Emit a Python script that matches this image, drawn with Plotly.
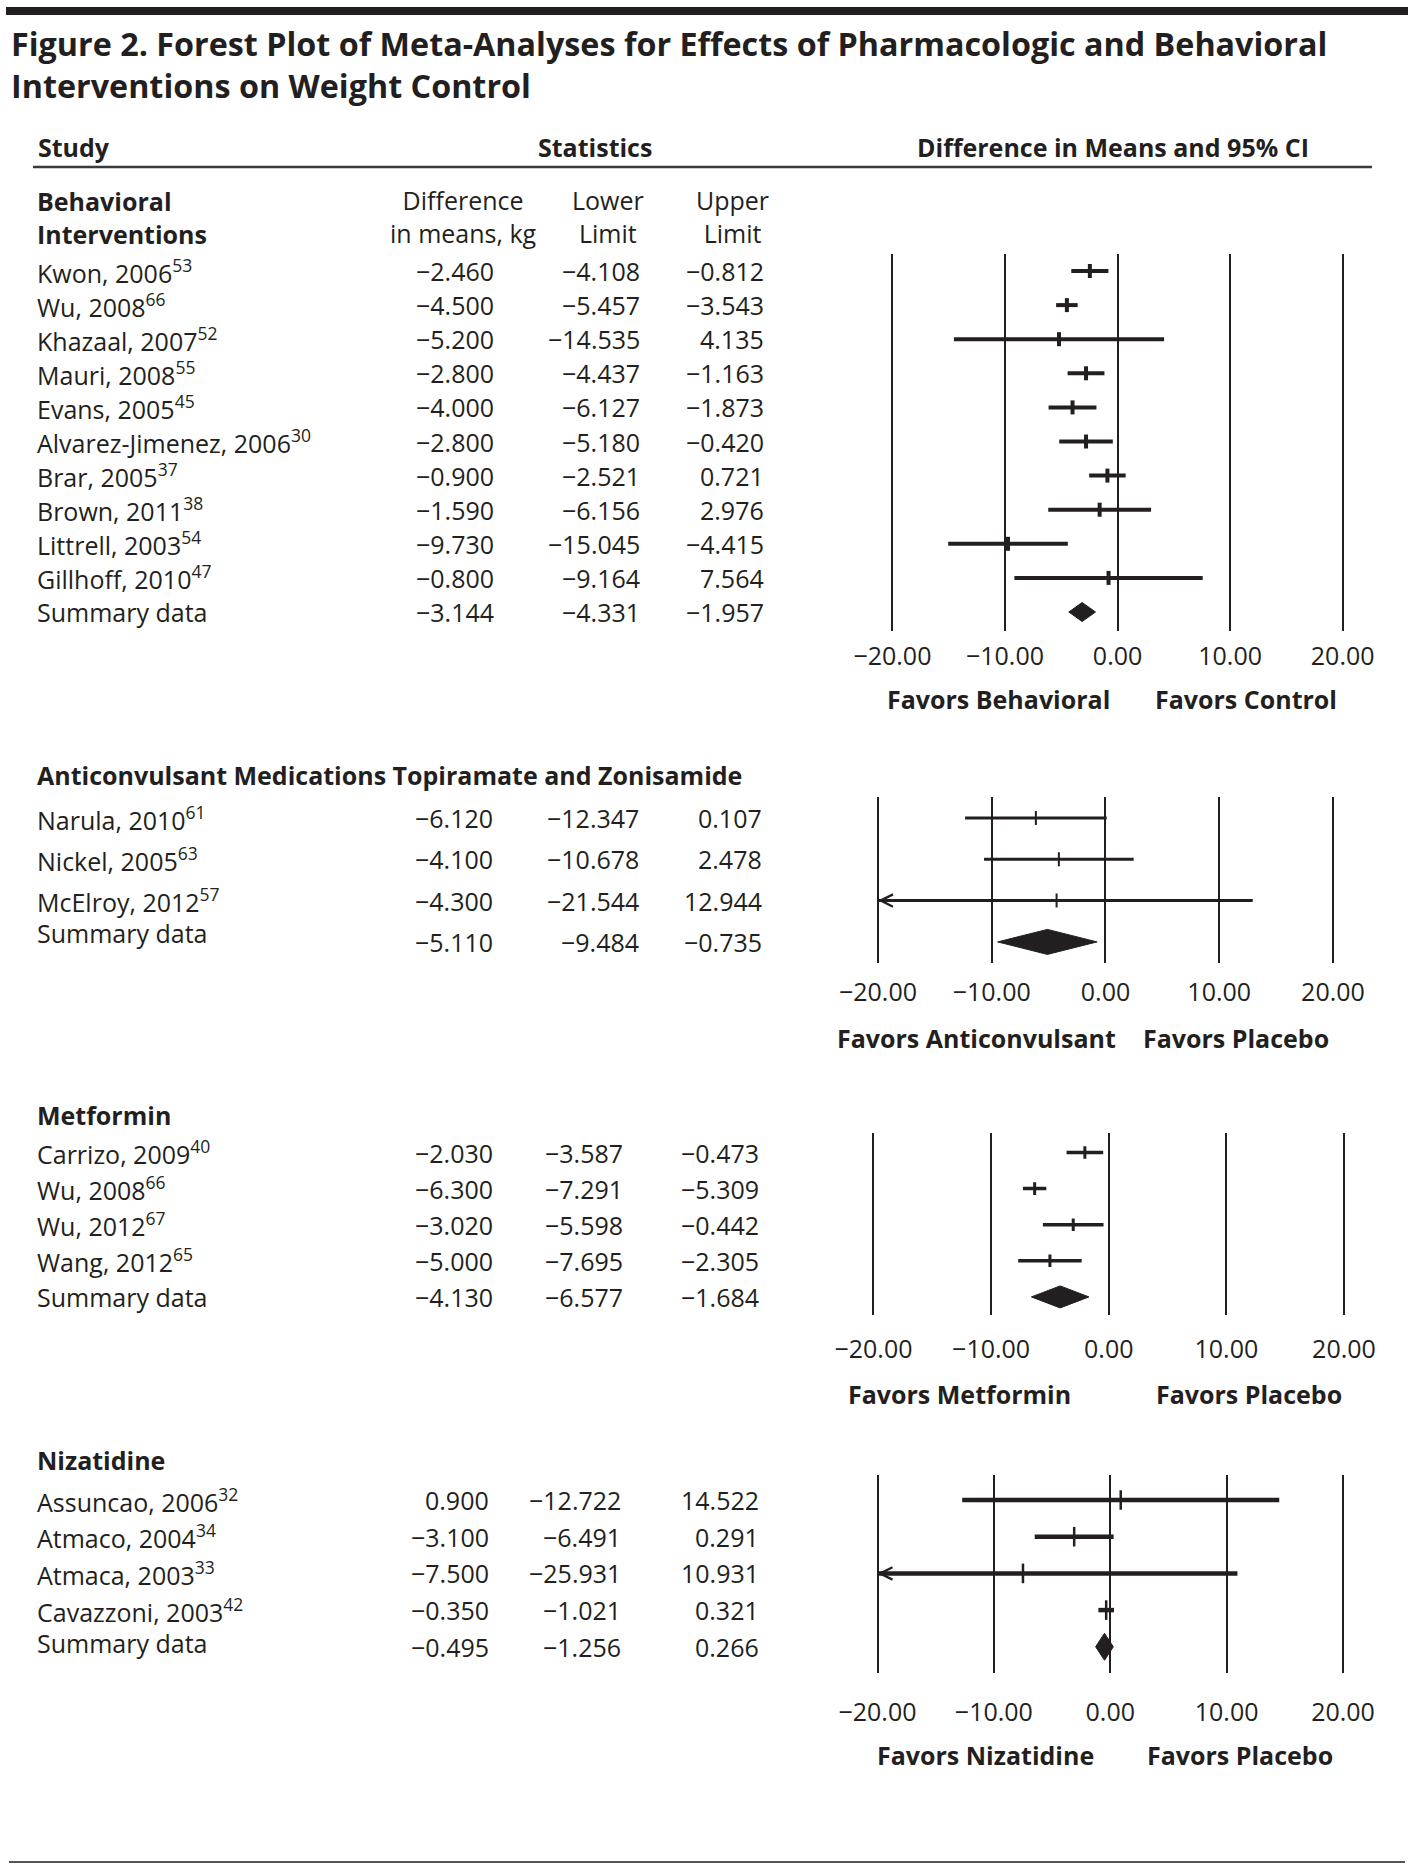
import plotly.graph_objects as go

# ---------------- data ----------------
tick_vals = [-20, -10, 0, 10, 20]

beh_study = ["Kwon, 2006", "Wu, 2008", "Khazaal, 2007", "Mauri, 2008", "Evans, 2005",
             "Alvarez-Jimenez, 2006", "Brar, 2005", "Brown, 2011", "Littrell, 2003", "Gillhoff, 2010"]
beh_ref = ["53", "66", "52", "55", "45", "30", "37", "38", "54", "47"]
beh_diff = [-2.460, -4.500, -5.200, -2.800, -4.000, -2.800, -0.900, -1.590, -9.730, -0.800]
beh_lower = [-4.108, -5.457, -14.535, -4.437, -6.127, -5.180, -2.521, -6.156, -15.045, -9.164]
beh_upper = [-0.812, -3.543, 4.135, -1.163, -1.873, -0.420, 0.721, 2.976, -4.415, 7.564]
beh_summary = [-3.144, -4.331, -1.957]

anti_study = ["Narula, 2010", "Nickel, 2005", "McElroy, 2012"]
anti_ref = ["61", "63", "57"]
anti_diff = [-6.120, -4.100, -4.300]
anti_lower = [-12.347, -10.678, -21.544]
anti_upper = [0.107, 2.478, 12.944]
anti_summary = [-5.110, -9.484, -0.735]

met_study = ["Carrizo, 2009", "Wu, 2008", "Wu, 2012", "Wang, 2012"]
met_ref = ["40", "66", "67", "65"]
met_diff = [-2.030, -6.300, -3.020, -5.000]
met_lower = [-3.587, -7.291, -5.598, -7.695]
met_upper = [-0.473, -5.309, -0.442, -2.305]
met_summary = [-4.130, -6.577, -1.684]

niz_study = ["Assuncao, 2006", "Atmaco, 2004", "Atmaca, 2003", "Cavazzoni, 2003"]
niz_ref = ["32", "34", "33", "42"]
niz_diff = [0.900, -3.100, -7.500, -0.350]
niz_lower = [-12.722, -6.491, -25.931, -1.021]
niz_upper = [14.522, 0.291, 10.931, 0.321]
niz_summary = [-0.495, -1.256, 0.266]

# ---------------- style ----------------
W, H = 1414, 1873
INK = "#231f20"
FONT = "Open Sans"
FS = 25


def xp(px):
    return px / W


def yp(py):
    return 1 - py / H


def fmt(v):
    return f"{v:.3f}".replace("-", "\u2212")


def tfmt(v):
    return f"{v:.2f}".replace("-", "\u2212")


panels = [
    dict(section=None, study=beh_study, ref=beh_ref, diff=beh_diff, lower=beh_lower, upper=beh_upper,
         summary=beh_summary, favors=("Favors Behavioral", "Favors Control"),
         xm=892.4, xpp=1342.7, top=254, bottom=631, row0=271, step=34.1,
         cols=(496, 642, 766), ci_w=4, tick_size=10, tick_w=4, dia_h=9.5,
         tick_y=654, favors_y=699, favors_x=(885, 1153), sum_shift=0),
    dict(section=("Anticonvulsant Medications Topiramate and Zonisamide", 775),
         study=anti_study, ref=anti_ref, diff=anti_diff, lower=anti_lower, upper=anti_upper,
         summary=anti_summary, favors=("Favors Anticonvulsant", "Favors Placebo"),
         xm=878, xpp=1333, top=797, bottom=963, row0=818, step=41.3,
         cols=(495, 641, 764), ci_w=3, tick_size=10, tick_w=2, dia_h=12.5,
         tick_y=990, favors_y=1038, favors_x=(835, 1141), sum_shift=9),
    dict(section=("Metformin", 1115),
         study=met_study, ref=met_ref, diff=met_diff, lower=met_lower, upper=met_upper,
         summary=met_summary, favors=("Favors Metformin", "Favors Placebo"),
         xm=873.5, xpp=1344, top=1133, bottom=1315, row0=1152.5, step=36.1,
         cols=(495, 625, 761), ci_w=3.5, tick_size=9, tick_w=3, dia_h=11,
         tick_y=1347, favors_y=1394, favors_x=(846, 1154), sum_shift=0),
    dict(section=("Nizatidine", 1460),
         study=niz_study, ref=niz_ref, diff=niz_diff, lower=niz_lower, upper=niz_upper,
         summary=niz_summary, favors=("Favors Nizatidine", "Favors Placebo"),
         xm=877.5, xpp=1343, top=1475, bottom=1673, row0=1500, step=36.7,
         cols=(491, 623, 761), ci_w=4.5, tick_size=14, tick_w=2.5, dia_h=13.5,
         tick_y=1710, favors_y=1755, favors_x=(875, 1145), sum_shift=4),
]

fig = go.Figure()
annotations = []
shapes = []
layout_axes = {}

clip_lo, clip_hi = tick_vals[0], tick_vals[-1]

for i, p in enumerate(panels, start=1):
    xa = "x" if i == 1 else f"x{i}"
    ya = "y" if i == 1 else f"y{i}"
    xkey = "xaxis" if i == 1 else f"xaxis{i}"
    ykey = "yaxis" if i == 1 else f"yaxis{i}"

    s = (p["xpp"] - p["xm"]) / (clip_hi - clip_lo)
    rng = [-25, 25]
    left = p["xm"] + (rng[0] - clip_lo) * s
    right = p["xpp"] + (rng[1] - clip_hi) * s
    standoff = max(0, p["tick_y"] - p["bottom"] - 15)
    layout_axes[xkey] = dict(
        domain=[xp(left), xp(right)], range=rng, anchor=ya,
        tickmode="array", tickvals=tick_vals, ticktext=[tfmt(v) for v in tick_vals],
        showgrid=True, gridcolor=INK, gridwidth=2.4, zeroline=False, showline=False,
        ticks="", tickfont=dict(family=FONT, size=FS, color=INK),
        ticklabelstandoff=standoff, fixedrange=True,
    )
    n = len(p["study"])
    rows = list(range(n))
    sum_row = n
    y_top = (p["top"] - p["row0"]) / p["step"]
    y_bot = (p["bottom"] - p["row0"]) / p["step"]
    layout_axes[ykey] = dict(domain=[yp(p["bottom"]), yp(p["top"])], range=[y_bot, y_top],
                             anchor=xa, visible=False, fixedrange=True)

    # CI lines
    lx, ly = [], []
    for r, lo, hi in zip(rows, p["lower"], p["upper"]):
        lx += [max(lo, clip_lo), min(hi, clip_hi), None]
        ly += [r, r, None]
    fig.add_trace(go.Scatter(x=lx, y=ly, mode="lines", xaxis=xa, yaxis=ya,
                             line=dict(color=INK, width=p["ci_w"]), hoverinfo="skip", showlegend=False))
    # point estimates
    fig.add_trace(go.Scatter(x=p["diff"], y=rows, mode="markers", xaxis=xa, yaxis=ya,
                             marker=dict(symbol="line-ns", size=p["tick_size"],
                                         line=dict(color=INK, width=p["tick_w"])),
                             hoverinfo="skip", showlegend=False))
    # arrows for truncated intervals
    for r, lo, hi in zip(rows, p["lower"], p["upper"]):
        if lo < clip_lo:
            annotations.append(dict(x=clip_lo, y=r, xref=xa, yref=ya, ax=min(hi, clip_hi), ay=r,
                                    axref=xa, ayref=ya, text="", showarrow=True, arrowhead=5,
                                    arrowsize=1.1, arrowwidth=2.2, arrowcolor=INK))
    # summary diamond
    est, slo, shi = p["summary"]
    h = p["dia_h"] / p["step"]
    fig.add_trace(go.Scatter(x=[slo, est, shi, est, slo], y=[sum_row, sum_row - h, sum_row, sum_row + h, sum_row],
                             mode="lines", fill="toself", fillcolor=INK, line=dict(color=INK, width=1),
                             xaxis=xa, yaxis=ya, hoverinfo="skip", showlegend=False))

    # table text
    labels = [f"{st}<sup>{rf}</sup>" for st, rf in zip(p["study"], p["ref"])] + ["Summary data"]
    d_all = p["diff"] + [est]
    l_all = p["lower"] + [slo]
    u_all = p["upper"] + [shi]
    for r, lab in enumerate(labels):
        annotations.append(dict(x=xp(35), y=r, xref="paper", yref=ya, text=lab, showarrow=False,
                                xanchor="left", yanchor="middle",
                                yshift=p["sum_shift"] if r == sum_row else 0,
                                font=dict(family=FONT, size=FS, color=INK)))
        for cx, vals in zip(p["cols"], (d_all, l_all, u_all)):
            annotations.append(dict(x=xp(cx), y=r, xref="paper", yref=ya, text=fmt(vals[r]),
                                    showarrow=False, xanchor="right", yanchor="middle",
                                    font=dict(family=FONT, size=FS, color=INK)))
    # section title
    if p["section"]:
        annotations.append(dict(x=xp(35), y=yp(p["section"][1]), xref="paper", yref="paper",
                                text=f"<b>{p['section'][0]}</b>", showarrow=False,
                                xanchor="left", yanchor="middle",
                                font=dict(family=FONT, size=FS, color=INK)))
    # favors labels
    for fx, ftxt in zip(p["favors_x"], p["favors"]):
        annotations.append(dict(x=xp(fx), y=yp(p["favors_y"]), xref="paper", yref="paper",
                                text=f"<b>{ftxt}</b>", showarrow=False, xanchor="left", yanchor="middle",
                                font=dict(family=FONT, size=FS, color=INK)))

# headers
hdr = [
    ("<b>Figure 2. Forest Plot of Meta-Analyses for Effects of Pharmacologic and Behavioral<br>"
     "Interventions on Weight Control</b>", 9, 64, "left", "left", 32.3),
    ("<b>Study</b>", 36, 147, "left", "left", FS),
    ("<b>Statistics</b>", 595, 147, "center", "center", FS),
    ("<b>Difference in Means and 95% CI</b>", 1113, 147, "center", "center", FS),
    ("<b>Behavioral<br>Interventions</b>", 35, 217, "left", "left", FS),
    ("Difference<br>in means, kg", 463, 216, "center", "center", FS),
    ("Lower<br>Limit", 608, 216, "center", "center", FS),
    ("Upper<br>Limit", 732, 216, "center", "center", FS),
]
for txt, x, y, anc, al, sz in hdr:
    annotations.append(dict(x=xp(x), y=yp(y), xref="paper", yref="paper", text=txt, showarrow=False,
                            xanchor=anc, yanchor="middle", align=al,
                            font=dict(family=FONT, size=sz, color=INK)))

shapes.append(dict(type="rect", xref="paper", yref="paper", x0=xp(6), x1=xp(1408), y0=yp(7), y1=yp(15),
                   fillcolor=INK, line=dict(width=0)))
shapes.append(dict(type="line", xref="paper", yref="paper", x0=xp(33), x1=xp(1372), y0=yp(167), y1=yp(167),
                   line=dict(color="#3a3a3a", width=2.5)))
shapes.append(dict(type="line", xref="paper", yref="paper", x0=xp(9), x1=xp(1405), y0=yp(1862), y1=yp(1862),
                   line=dict(color="#555555", width=2)))

fig.update_layout(
    width=W, height=H, margin=dict(l=0, r=0, t=0, b=0), autosize=False,
    paper_bgcolor="white", plot_bgcolor="white",
    annotations=annotations, shapes=shapes, showlegend=False,
    font=dict(family=FONT, size=FS, color=INK),
    **layout_axes,
)

fig.write_html("out.html", config={"displayModeBar": False},
               post_script="document.body.style.margin='0';document.body.style.overflow='hidden';")
